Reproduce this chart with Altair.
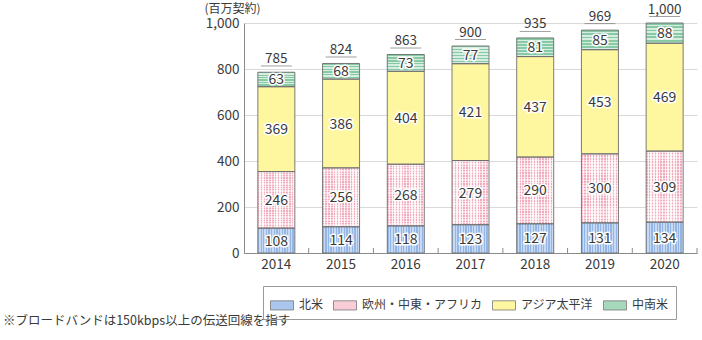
import altair as alt
import pandas as pd

years = ["2014", "2015", "2016", "2017", "2018", "2019", "2020"]
regions = ["北米", "欧州・中東・アフリカ", "アジア太平洋", "中南米"]
north_america = [108, 114, 118, 123, 127, 131, 134]
emea = [246, 256, 268, 279, 290, 300, 309]
asia_pacific = [369, 386, 404, 421, 437, 453, 469]
latin_america = [63, 68, 73, 77, 81, 85, 88]
totals = [785, 824, 863, 900, 935, 969, 1000]
total_labels = ["785", "824", "863", "900", "935", "969", "1,000"]
y_ticks = [0, 200, 400, 600, 800, 1000]
unit_label = "(百万契約)"
note = "※ブロードバンドは150kbps以上の伝送回線を指す"

colors = ["#aac6ec", "#f8cdd8", "#fff7a0", "#a6d8bd"]
FONT = "Noto Sans CJK JP"
TXT = "#3a3a3a"

series = [north_america, emea, asia_pacific, latin_america]
rows = []
for i, y in enumerate(years):
    base = 0
    for r, vals in zip(regions, series):
        v = vals[i]
        rows.append({"year": y, "region": r, "value": v, "start": base,
                     "end": base + v, "mid": base + v / 2, "label": str(v)})
        base += v
df = pd.DataFrame(rows)
tot = pd.DataFrame({"year": years, "total": totals, "label": total_labels})
note_df = pd.DataFrame({"t": [note]})


def stripes(c1, c2, n, horizontal=False):
    stops = []
    for i in range(n):
        a, m, b = i / n, (i + 0.5) / n, (i + 1) / n
        stops += [{"offset": a, "color": c1}, {"offset": m, "color": c1},
                  {"offset": m, "color": c2}, {"offset": b, "color": c2}]
    return {"gradient": "linear", "stops": stops, "x1": 0, "y1": 0,
            "x2": 0 if horizontal else 1, "y2": 1 if horizontal else 0}


BW = 37
xenc = alt.X("year:N", sort=years, title=None,
             scale=alt.Scale(paddingInner=0, paddingOuter=0),
             axis=alt.Axis(labelAngle=0, ticks=False, labelFontSize=13.5, labelFont=FONT,
                           labelColor=TXT, labelPadding=4, domainColor="#8a8a8a",
                           grid=False))
yscale = alt.Scale(domain=[0, 1000])

base = alt.Chart(df)

bars = base.mark_bar(width=BW).encode(
    x=xenc,
    y=alt.Y("start:Q", scale=yscale,
            axis=alt.Axis(values=y_ticks, format=",d", ticks=False, labelFontSize=13.5,
                          labelFont=FONT, labelColor=TXT, labelPadding=5,
                          domainColor="#8a8a8a", gridColor="#d9d9d9",
                          title=unit_label, titleAngle=0, titleX=-12, titleY=-15,
                          titleAlign="center", titleBaseline="middle",
                          titleFont=FONT, titleFontSize=12, titleFontWeight="normal",
                          titleColor=TXT)),
    y2="end:Q",
    fill=alt.Fill("region:N", scale=alt.Scale(domain=regions, range=colors),
                  legend=alt.Legend(title=None)),
)

blue = base.mark_bar(width=BW, fill=stripes("#93b6e4", "#c8daf3", 14)).encode(
    x=alt.X("year:N", sort=years), y="start:Q", y2="end:Q"
).transform_filter(alt.datum.region == regions[0])

pink = base.mark_bar(width=BW, fill=stripes("#f2aabd", "#fdf0f3", 13)).encode(
    x=alt.X("year:N", sort=years), y="start:Q", y2="end:Q"
).transform_filter(alt.datum.region == regions[1])

pink2 = base.mark_bar(width=BW, fill=stripes("rgba(255,255,255,0.55)", "rgba(255,255,255,0)", 24, True)).encode(
    x=alt.X("year:N", sort=years), y="start:Q", y2="end:Q"
).transform_filter(alt.datum.region == regions[1])

green = base.mark_bar(width=BW, fill=stripes("#86c9a4", "#d6eee1", 6, True)).encode(
    x=alt.X("year:N", sort=years), y="start:Q", y2="end:Q"
).transform_filter(alt.datum.region == regions[3])

outline = base.mark_bar(width=BW, fillOpacity=0, stroke="#6e6e6e", strokeWidth=0.9).encode(
    x=alt.X("year:N", sort=years), y="start:Q", y2="end:Q"
)

halo = base.mark_text(font=FONT, fontSize=14, stroke="white", strokeWidth=3,
                      strokeJoin="round", fill="white", baseline="middle", dy=1).encode(
    x=alt.X("year:N", sort=years), y="mid:Q", text="label:N"
)
labels = base.mark_text(font=FONT, fontSize=14, fill=TXT, baseline="middle", dy=1).encode(
    x=alt.X("year:N", sort=years), y="mid:Q", text="label:N"
)

tb = alt.Chart(tot)
tot_line = tb.mark_tick(size=31, thickness=1, color="#777", yOffset=-6.5).encode(
    x=alt.X("year:N", sort=years), y="total:Q"
)
tot_text = tb.mark_text(font=FONT, fontSize=13.5, fill=TXT, baseline="alphabetic", dy=-9.5).encode(
    x=alt.X("year:N", sort=years), y="total:Q", text="label:N"
)
xticks = tb.mark_rule(color="#8a8a8a", strokeWidth=1).encode(
    x=alt.X("year:N", sort=years, bandPosition=1),
    y=alt.value(225), y2=alt.value(230)
)

foot = alt.Chart(note_df).mark_text(font=FONT, fontSize=12.5, fill=TXT, align="left",
                                     baseline="middle").encode(
    x=alt.value(-241), y=alt.value(298), text="t:N"
)

chart = alt.layer(bars, blue, pink, pink2, green, outline, halo, labels,
                  tot_line, tot_text, xticks, foot).properties(
    width=453, height=230,
    autosize=alt.AutoSizeParams(type="none"),
    padding={"left": 244, "top": 23, "right": 5, "bottom": 87},
).configure_view(stroke=None).configure_legend(
    orient="none", legendX=19, legendY=263, direction="horizontal",
    strokeColor="#9a9a9a", padding=7, symbolType="M-1,-0.4H1V0.4H-1Z",
    symbolSize=529, symbolStrokeColor="#777", symbolStrokeWidth=0.8,
    labelFont=FONT, labelFontSize=12, labelColor=TXT, labelOffset=5,
    columnPadding=7, symbolOpacity=1, labelLimit=300,
)

chart.save("out.html", embed_options={"renderer": "svg", "actions": False})
